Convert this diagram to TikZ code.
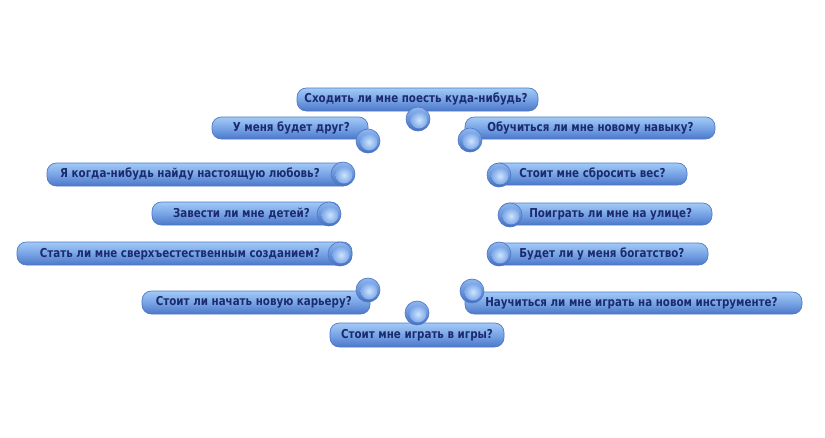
\documentclass[tikz,border=0pt]{standalone}
\usepackage{fontspec}
\setmainfont{DejaVu Sans}[FakeStretch=0.84]
\definecolor{txt}{HTML}{1C2A6E}
\definecolor{ptop}{HTML}{A2CAF6}
\definecolor{pmid}{HTML}{78A4E6}
\definecolor{pbot}{HTML}{4C77C8}
\definecolor{pedge}{HTML}{4F79C6}
\definecolor{ringtop}{HTML}{8DB6F0}
\definecolor{ringbot}{HTML}{4470C0}
\definecolor{kin}{HTML}{CDE4FD}
\definecolor{kout}{HTML}{7EA8E8}
\tikzset{
  label text/.style={font=\bfseries\fontsize{9.2}{10}\selectfont, text=txt, inner sep=0pt},
}
\newcommand{\pillbox}[4]{%
  \shade[top color=ptop, bottom color=pbot, middle color=pmid, rounded corners=7pt] (#1,#2) rectangle (#3,#4);
  \draw[pedge, line width=0.5pt, rounded corners=7pt] (#1,#2) rectangle (#3,#4);
}
\newcommand{\knobat}[2]{%
  \shade[top color=ringtop, bottom color=ringbot] (#1,#2) circle (12);
  \draw[pedge, line width=0.5pt] (#1,#2) circle (12);
  \shade[inner color=kin, outer color=kout] (#1+1,#2+1) circle (8.5);
}
\begin{document}
\begin{tikzpicture}[x=0.75pt, y=-0.75pt]
\useasboundingbox (0,0) rectangle (825,437);
\fill[white] (0,0) rectangle (825,437);
% pills
\pillbox{297}{88}{538}{111}
\pillbox{212}{117}{368}{139}
\pillbox{465}{117}{715}{139}
\pillbox{47}{163}{352}{186}
\pillbox{490}{163}{687}{185}
\pillbox{152}{202}{340}{225}
\pillbox{500}{203}{712}{225}
\pillbox{17}{242}{352}{265}
\pillbox{488}{243}{708}{265}
\pillbox{142}{291}{370}{314}
\pillbox{465}{292}{802}{314}
\pillbox{330}{323}{504}{347}
% knobs
\knobat{418}{119}
\knobat{368}{141}
\knobat{470}{140}
\knobat{343}{174}
\knobat{499}{175}
\knobat{329}{214}
\knobat{510}{215}
\knobat{340}{254}
\knobat{499}{254}
\knobat{368}{290}
\knobat{472}{291}
\knobat{417}{313}
% texts
\node[label text] (t1) at (416,99) {Сходить ли мне поесть куда-нибудь?};
\node[label text, anchor=east] (t2) at (350,128) {У меня будет друг?};
\node[label text, anchor=west] (t3) at (487,128) {Обучиться ли мне новому навыку?};
\node[label text, anchor=east] (t4) at (320,174) {Я когда-нибудь найду настоящую любовь?};
\node[label text, anchor=west] (t12) at (519,174) {Стоит мне сбросить вес?};
\node[label text, anchor=east] (t5) at (310,214) {Завести ли мне детей?};
\node[label text, anchor=west] (t11) at (529,214) {Поиграть ли мне на улице?};
\node[label text, anchor=east] (t6) at (320,254) {Стать ли мне сверхъестественным созданием?};
\node[label text, anchor=west] (t10) at (519,254) {Будет ли у меня богатство?};
\node[label text, anchor=east] (t7) at (352,302) {Стоит ли начать новую карьеру?};
\node[label text, anchor=west] (t9) at (485,303) {Научиться ли мне играть на новом инструменте?};
\node[label text] (t8) at (417,335) {Стоит мне играть в игры?};
\end{tikzpicture}
\end{document}
